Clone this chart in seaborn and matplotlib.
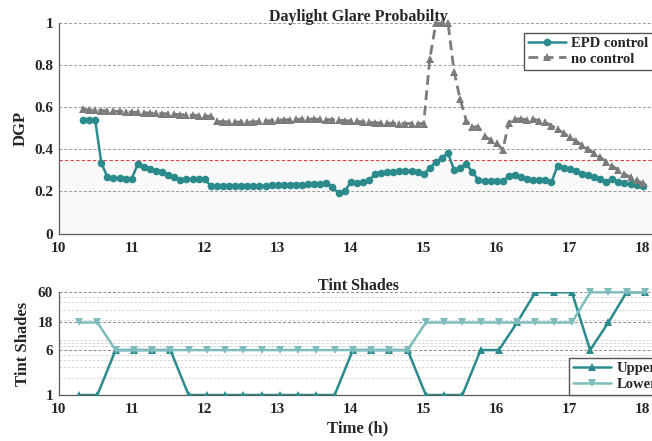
import numpy as np
import pandas as pd
import matplotlib
matplotlib.use("Agg")
import matplotlib.pyplot as plt
from matplotlib.ticker import LogLocator, NullFormatter, FixedLocator
import seaborn as sns

# ---- Daylight glare probability, 5-minute steps from 10:20 to 18:00 ----
dgp_time = 10 + (20 + 5 * np.arange(93)) / 60.0

dgp_epd = [
    0.540, 0.540, 0.540, 0.337, 0.269, 0.263, 0.262, 0.261, 0.261, 0.329,
    0.316, 0.307, 0.297, 0.291, 0.280, 0.269, 0.256, 0.257, 0.257, 0.260,
    0.260, 0.226, 0.225, 0.225, 0.225, 0.226, 0.226, 0.226, 0.227, 0.227,
    0.228, 0.229, 0.230, 0.230, 0.231, 0.232, 0.233, 0.234, 0.235, 0.235,
    0.240, 0.220, 0.192, 0.202, 0.243, 0.239, 0.245, 0.253, 0.281, 0.290,
    0.293, 0.294, 0.296, 0.297, 0.297, 0.294, 0.284, 0.310, 0.342, 0.361,
    0.382, 0.302, 0.313, 0.332, 0.291, 0.256, 0.252, 0.250, 0.250, 0.250,
    0.272, 0.280, 0.269, 0.260, 0.256, 0.256, 0.256, 0.244, 0.321, 0.313,
    0.306, 0.295, 0.285, 0.276, 0.269, 0.257, 0.245, 0.259, 0.244, 0.240,
    0.237, 0.231, 0.224,
]

dgp_none = [
    0.590, 0.588, 0.587, 0.585, 0.584, 0.582, 0.581, 0.579, 0.578, 0.576,
    0.575, 0.573, 0.572, 0.570, 0.569, 0.567, 0.566, 0.564, 0.563, 0.561,
    0.560, 0.558, 0.533, 0.532, 0.531, 0.530, 0.530, 0.530, 0.531, 0.533,
    0.535, 0.537, 0.539, 0.541, 0.542, 0.543, 0.544, 0.544, 0.544, 0.543,
    0.542, 0.541, 0.539, 0.537, 0.535, 0.533, 0.531, 0.529, 0.527, 0.526,
    0.525, 0.524, 0.523, 0.523, 0.523, 0.523, 0.523, 0.830, 1.000, 1.000,
    1.000, 0.770, 0.638, 0.537, 0.508, 0.508, 0.462, 0.445, 0.430, 0.397,
    0.528, 0.545, 0.545, 0.541, 0.545, 0.536, 0.529, 0.513, 0.496, 0.477,
    0.459, 0.440, 0.421, 0.402, 0.381, 0.362, 0.342, 0.321, 0.302, 0.283,
    0.267, 0.254, 0.238,
]

dgp_threshold = 0.35

# ---- Tint states of the two window zones, 15-minute steps ----
tint_time = 10.28 + 0.25 * np.arange(32)

tint_upper = [
    1, 1, 6, 6, 6, 6, 1, 1, 1, 1, 1, 1, 1, 1, 1, 6,
    6, 6, 6, 1, 1, 1, 6, 6, 18, 60, 60, 60, 6, 18, 60, 60,
]
tint_lower = [
    18, 18, 6, 6, 6, 6, 6, 6, 6, 6, 6, 6, 6, 6, 6, 6,
    6, 6, 6, 18, 18, 18, 18, 18, 18, 18, 18, 18, 60, 60, 60, 60,
]
tint_ticks = [1, 6, 18, 60]
time_ticks = [10, 11, 12, 13, 14, 15, 16, 17, 18]

dgp_df = pd.DataFrame({"time": dgp_time, "epd": dgp_epd, "none": dgp_none})
tint_df = pd.DataFrame({"time": tint_time, "upper": tint_upper, "lower": tint_lower})

sns.set_style("white")
plt.rcParams["font.family"] = ["Liberation Serif", "DejaVu Serif"]
plt.rcParams["font.weight"] = "bold"
plt.rcParams["axes.labelweight"] = "bold"
plt.rcParams["axes.titleweight"] = "bold"

TEAL = "#2b8b8c"
LIGHT_TEAL = "#7fbcbd"
GREY = "#7b7b7b"
SPINE = "#5a5a5a"

fig = plt.figure(figsize=(6.52, 4.41), dpi=100)
ax1 = fig.add_axes([0.0900, 0.4705, 0.9181, 0.4767])
ax2 = fig.add_axes([0.0900, 0.1043, 0.9181, 0.2329])

# ---------------- top panel: DGP ----------------
ax1.axhspan(0, dgp_threshold, color="#f9f9f9", zorder=0, lw=0)
ax1.axhline(dgp_threshold, color="#e04040", ls=(0, (3, 2)), lw=0.8, zorder=1)

sns.lineplot(data=dgp_df, x="time", y="epd", ax=ax1, color=TEAL, lw=1.8,
             marker="o", markersize=5.5, markeredgewidth=0, label="EPD control",
             zorder=3)
sns.lineplot(data=dgp_df, x="time", y="none", ax=ax1, color=GREY, lw=2.0,
             linestyle=(0, (3.5, 2)), marker="^", markersize=6,
             markeredgewidth=0, label="no control", zorder=4, clip_on=False)

ax1.set_xlim(10, 18.2)
ax1.set_ylim(0, 1)
ax1.set_yticks([0, 0.2, 0.4, 0.6, 0.8, 1.0])
ax1.set_yticklabels(["0", "0.2", "0.4", "0.6", "0.8", "1"])
ax1.set_xticks(time_ticks)
ax1.grid(axis="y", ls=(0, (3, 2)), color="#9a9a9a", lw=0.7)
ax1.set_axisbelow(True)
ax1.set_xlabel("")
ax1.set_ylabel("DGP", fontsize=12, labelpad=4)
ax1.set_title("Daylight Glare Probabilty", fontsize=11.5, pad=2)
ax1.legend(loc="upper left", bbox_to_anchor=(0.777, 0.956), fontsize=10.5,
           frameon=True, fancybox=False, framealpha=1, edgecolor="#555555",
           handlelength=2.6, handletextpad=0.35, labelspacing=0.15,
           borderpad=0.3, borderaxespad=0)

# ---------------- bottom panel: tint shades ----------------
sns.lineplot(data=tint_df, x="time", y="upper", ax=ax2, color=TEAL, lw=1.8,
             marker="^", markersize=6, markeredgewidth=0, label="Upper",
             zorder=3)
sns.lineplot(data=tint_df, x="time", y="lower", ax=ax2, color=LIGHT_TEAL,
             lw=1.8, marker="v", markersize=6, markeredgewidth=0,
             label="Lower", zorder=3, clip_on=False)

ax2.set_yscale("log")
ax2.set_xlim(10, 18.2)
ax2.set_ylim(1, 60)
ax2.yaxis.set_major_locator(FixedLocator(tint_ticks))
ax2.set_yticklabels([str(v) for v in tint_ticks])
ax2.yaxis.set_minor_locator(LogLocator(base=10, subs=np.arange(2, 10)))
ax2.yaxis.set_minor_formatter(NullFormatter())
ax2.set_xticks(time_ticks)
ax2.grid(axis="y", which="major", ls=(0, (3, 2)), color="#8a8a8a", lw=0.7)
ax2.grid(axis="y", which="minor", ls=(0, (3, 2)), color="#d0d0d0", lw=0.6)
ax2.set_axisbelow(True)
ax2.set_xlabel("Time (h)", fontsize=12, labelpad=3)
ax2.set_ylabel("Tint Shades", fontsize=12, labelpad=5)
ax2.set_title("Tint Shades", fontsize=11.5, pad=2)
ax2.legend(loc="lower left", bbox_to_anchor=(0.8525, 0.0), fontsize=10.5,
           frameon=True, fancybox=False, framealpha=1, edgecolor="#555555",
           handlelength=2.6, handletextpad=0.35, labelspacing=0.15,
           borderpad=0.3, borderaxespad=0)

for ax in (ax1, ax2):
    for side in ("top", "right"):
        ax.spines[side].set_visible(False)
    for side in ("left", "bottom"):
        ax.spines[side].set_color(SPINE)
        ax.spines[side].set_linewidth(0.9)
    ax.tick_params(axis="both", which="major", direction="in", length=4,
                   width=0.8, color=SPINE, labelsize=11, pad=4)
    ax.tick_params(axis="x", pad=6)
    ax.tick_params(axis="y", which="minor", length=0)
    ax.tick_params(top=False, right=False)
    for lbl in ax.get_xticklabels() + ax.get_yticklabels():
        lbl.set_fontweight("bold")

fig.savefig("out.png", dpi=100)
